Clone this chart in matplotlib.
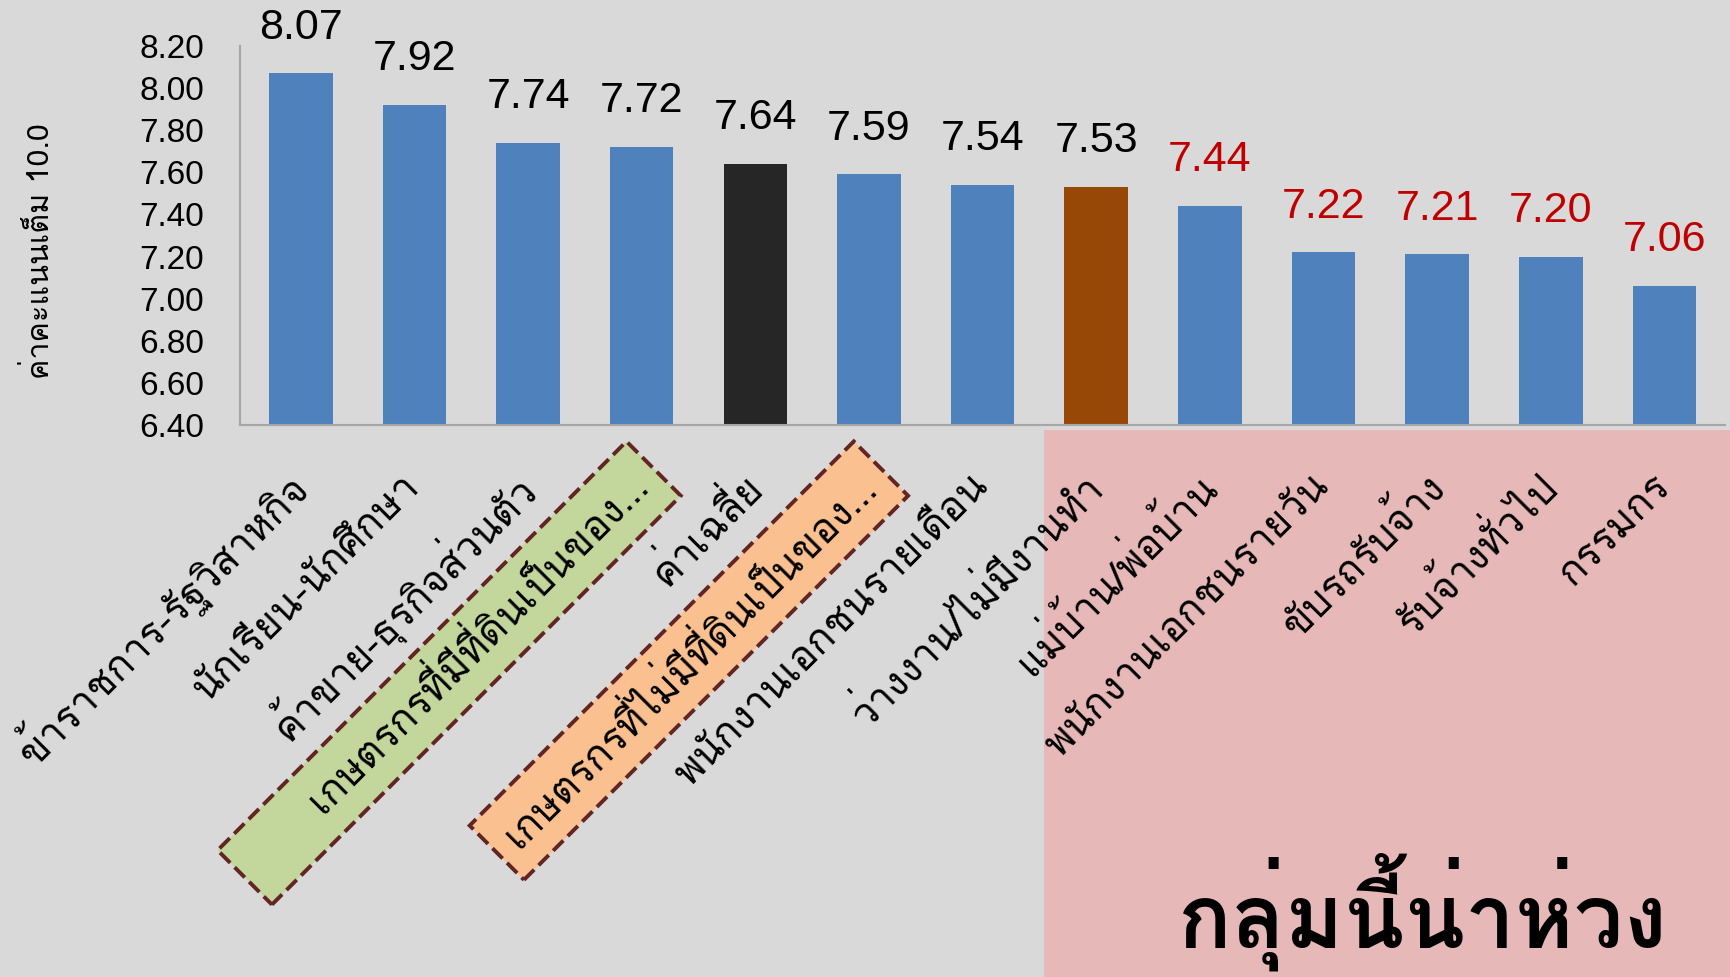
import matplotlib
matplotlib.use("Agg")
import matplotlib.pyplot as plt

groups = ["ข้าราชการ-รัฐวิสาหกิจ", "นักเรียน-นักศึกษา", "ค้าขาย-ธุรกิจส่วนตัว",
          "เกษตรกรที่มีที่ดินเป็นของ…", "ค่าเฉลี่ย", "เกษตรกรที่ไม่มีที่ดินเป็นของ…",
          "พนักงานเอกชนรายเดือน", "ว่างงาน/ไม่มีงานทำ", "แม่บ้าน/พ่อบ้าน",
          "พนักงานเอกชนรายวัน", "ขับรถรับจ้าง", "รับจ้างทั่วไป", "กรรมกร"]
scores = [8.07, 7.92, 7.74, 7.72, 7.64, 7.59, 7.54, 7.53, 7.44, 7.22, 7.21, 7.20, 7.06]
yticks = [6.40, 6.60, 6.80, 7.00, 7.20, 7.40, 7.60, 7.80, 8.00, 8.20]
ylabel = "ค่าคะแนนเต็ม 10.0"
note = "กลุ่มนี้น่าห่วง"

plt.rcParams['font.family'] = ['Loma', 'DejaVu Sans']

bar_colors = ['#4F81BD'] * len(scores)
bar_colors[4] = '#262626'
bar_colors[7] = '#974706'
text_colors = ['black'] * 8 + ['#C00000'] * 5

fig = plt.figure(figsize=(17.3, 9.77), dpi=100, facecolor='#D9D9D9')
ax = fig.add_axes([0.139, 0.565, 0.858, 0.388])
ax.set_facecolor('none')

# pink area behind the worrying group
fig.patches.append(plt.Rectangle((0.6035, 0), 0.3965, 0.56, transform=fig.transFigure,
                                 facecolor='#E6B8B7', edgecolor='none', zorder=-1))

x = range(len(scores))
ax.bar(x, scores, width=0.56, color=bar_colors)
ax.set_ylim(6.4, 8.2)
ax.set_xlim(-0.53, 12.53)
ax.set_yticks(yticks)
ax.set_yticklabels(['%.2f' % v for v in yticks], fontsize=24, family='Liberation Sans')
ax.tick_params(axis='y', length=0, pad=26)
ax.tick_params(axis='x', length=0, pad=40)
for s in ['top', 'right']:
    ax.spines[s].set_visible(False)
for s in ['left', 'bottom']:
    ax.spines[s].set_color('#A6A6A6')
    ax.spines[s].set_linewidth(1.5)

for i, v in enumerate(scores):
    ax.annotate('%.2f' % v, (i, v), xytext=(0, 25), textcoords='offset points',
                ha='center', va='baseline', fontsize=31, color=text_colors[i],
                family='Liberation Sans')

ax.set_xticks(list(x))
labels = list(groups)
labels[3] = ' ' * 6 + labels[3]   # green box runs further down-left
ax.set_xticklabels(labels, rotation=45, ha='right', va='center', rotation_mode='anchor', fontsize=29)
tl = ax.get_xticklabels()
tl[3].set_bbox(dict(boxstyle='square,pad=0.42', facecolor='#C3D69B', edgecolor='#632523',
                    linestyle='--', linewidth=2.8))
tl[5].set_bbox(dict(boxstyle='square,pad=0.42', facecolor='#FAC090', edgecolor='#632523',
                    linestyle='--', linewidth=2.8))

ax.set_ylabel(ylabel, fontsize=22)
ax.yaxis.set_label_coords(-0.125, 0.46)
fig.text(0.8225, 0.03, note, fontsize=64, fontweight='bold', ha='center', va='baseline')

fig.savefig('out.png', dpi=100, facecolor=fig.get_facecolor())
